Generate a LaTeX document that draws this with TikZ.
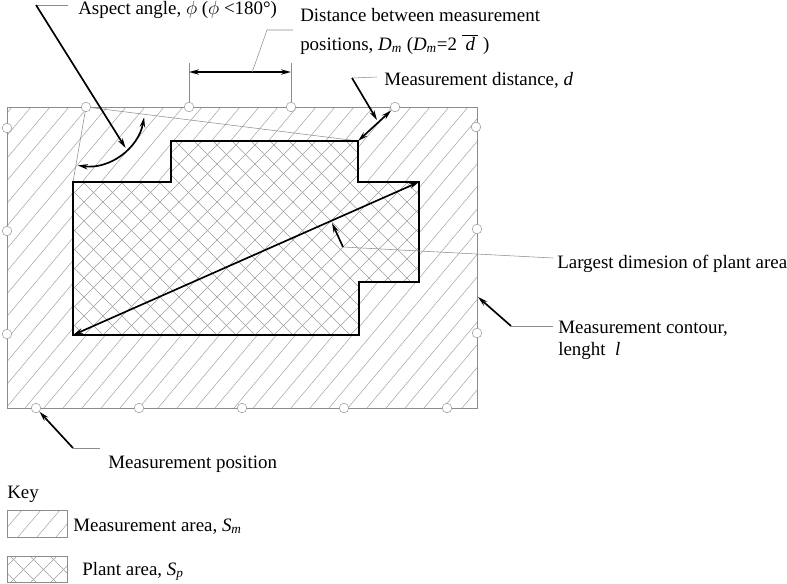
\documentclass[tikz,border=0pt]{standalone}
\usepackage{fontspec}
\setmainfont{Liberation Serif}
\usetikzlibrary{arrows.meta,calc}
\begin{document}
\begin{tikzpicture}[x=0.75pt,y=-0.75pt,
    font=\fontsize{14.2}{17}\selectfont,
    mpos/.style={circle,draw=black!40,fill=white,line width=0.4pt,inner sep=0pt,minimum size=7.2pt},
    hatch/.style={draw=black!38,line width=0.35pt},
    leader/.style={draw=black!45,line width=0.4pt},
    pointer/.style={line width=1.25pt,-{Stealth[length=7.5pt,width=4pt]}},
    dimline/.style={line width=1.25pt,{Stealth[length=7.5pt,width=4pt]}-{Stealth[length=7.5pt,width=4pt]}},
    txt/.style={anchor=base west,inner sep=0pt}]
\useasboundingbox (0,0) rectangle (787,583);

% measurement area
\begin{scope}
  \clip (7,107) rectangle (477,408);
  \foreach \x in {-260,-241,...,480} \draw[hatch] (\x,408) -- ++(253,-301);
\end{scope}
\draw[leader] (7,107) rectangle (477,408);

% plant area
\coordinate (c1) at (73,335);
\coordinate (c2) at (73,182);
\coordinate (c3) at (171,182);
\coordinate (c4) at (171,141);
\coordinate (c5) at (358,141);
\coordinate (c6) at (358,182);
\coordinate (c7) at (419,182);
\coordinate (c8) at (419,282);
\coordinate (c9) at (359,282);
\coordinate (c10) at (359,335);
\fill[white] (c1) -- (c2) -- (c3) -- (c4) -- (c5) -- (c6) -- (c7) -- (c8) -- (c9) -- (c10) -- cycle;
\begin{scope}
  \clip (c1) -- (c2) -- (c3) -- (c4) -- (c5) -- (c6) -- (c7) -- (c8) -- (c9) -- (c10) -- cycle;
  \foreach \x in {-130,-111,...,420} {
    \draw[hatch] (\x,340) -- ++(200,-200);
    \draw[hatch] (\x,140) -- ++(200,200);
  }
\end{scope}

% measurement positions
\node[mpos] (mp1) at (36,408) {};
\node[mpos] (mp2) at (139,408) {};
\node[mpos] (mp3) at (242,408) {};
\node[mpos] (mp4) at (344,408) {};
\node[mpos] (mp5) at (447,408) {};
\node[mpos] (mp6) at (477,333) {};
\node[mpos] (mp7) at (477,229) {};
\node[mpos] (mp8) at (476,127) {};
\node[mpos] (mp9) at (395,107) {};
\node[mpos] (mp10) at (291,107) {};
\node[mpos] (mp11) at (189,107) {};
\node[mpos] (mp12) at (86,107) {};
\node[mpos] (mp13) at (7,128) {};
\node[mpos] (mp14) at (7,231) {};
\node[mpos] (mp15) at (7,334) {};

% aspect angle
\draw[leader] (mp12) -- (c5);
\draw[leader] (mp12) -- (c2);
\draw[dimline] ($(mp12)+(98:59)$) arc[start angle=98,end angle=10,radius=59];

\draw[line width=1.4pt] (c1) -- (c2) -- (c3) -- (c4) -- (c5) -- (c6) -- (c7) -- (c8) -- (c9) -- (c10) -- cycle;
\draw[dimline] (c1) -- (c7);
\draw[dimline] (mp9) -- (c5);

% labels
\node[txt] (aspect) at (78,14) {Aspect angle, $\phi$ ($\phi$ <180°)};
\coordinate (aa) at (36,5);
\coordinate (atip) at ($(mp12)+(46:57)$);
\draw[leader] (aa) -- (68,5);
\draw[pointer] (aa) -- (atip);

\node[txt] (dist1) at (300,21) {Distance between measurement};
\node[txt] (dist2) at (300,50) {positions, \textit{D}\textsubscript{\textit{m}} (\textit{D}\textsubscript{\textit{m}}=2$\;\overline{\,\textit{d}\,}$ )};
\coordinate (da) at (189,72);
\coordinate (db) at (291,72);
\coordinate (dk) at (267,30);
\draw[leader] (mp11.north) -- (189,63);
\draw[leader] (mp10.north) -- (291,63);
\draw[dimline] (da) -- (db);
\draw[leader] ($(da)!0.62!(db)$) -- (dk) -- (293,30);

\node[txt] (mdist) at (384,85) {Measurement distance, \textit{d}};
\coordinate (ma) at (352,78);
\coordinate (mtip) at (377,120);
\draw[leader] (ma) -- (377,77);
\draw[pointer] (ma) -- (mtip);

\node[txt] (large) at (557,268) {Largest dimesion of plant area};
\coordinate (la) at (343,247);
\coordinate (ltip) at (332,223);
\draw[leader] (la) -- (553,258);
\draw[pointer] (la) -- (ltip);

\node[txt] (cont1) at (558,333) {Measurement contour,};
\node[txt] (cont2) at (558,355) {lenght\ \ \textit{l}};
\coordinate (ka) at (511,326);
\coordinate (ktip) at (478,297);
\draw[leader] (ka) -- (553,326);
\draw[pointer] (ka) -- (ktip);

\node[txt] (mpos) at (108,468) {Measurement position};
\coordinate (pa) at (73,448);
\draw[leader] (pa) -- (100,448);
\draw[pointer] (pa) -- (mp1);

% key
\node[txt] (key) at (7,498) {Key};
\begin{scope}
  \clip (7,510) rectangle (67,537);
  \foreach \x in {-20,-1,...,70} \draw[hatch] (\x,537) -- ++(23,-27);
\end{scope}
\draw[leader] (7,510) rectangle (67,537);
\node[txt] (lgm) at (73,531) {Measurement area, \textit{S}\textsubscript{\textit{m}}};
\begin{scope}
  \clip (7,556) rectangle (67,583);
  \foreach \x in {-30,-10,...,70} {
    \draw[hatch] (\x,583) -- ++(27,-27);
    \draw[hatch] (\x,556) -- ++(27,27);
  }
\end{scope}
\draw[leader] (7,556) rectangle (67,582.5);
\node[txt] (lgp) at (82,575) {Plant area, \textit{S}\textsubscript{\textit{p}}};
\end{tikzpicture}
\end{document}
